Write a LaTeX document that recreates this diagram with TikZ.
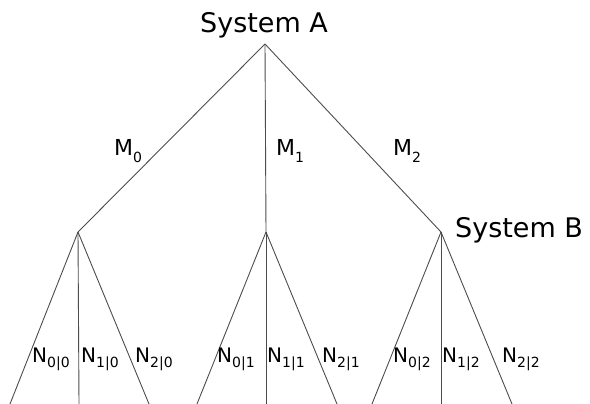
\documentclass[tikz,border=0pt]{standalone}
\usepackage{fontspec}
\setmainfont{DejaVu Sans}
\usetikzlibrary{positioning}
\newcommand{\sublbl}[2]{#1\raisebox{-0.28em}{\fontsize{14}{14}\selectfont #2}}

\begin{document}
\begin{tikzpicture}[x=1pt, y=-1pt,
        branch/.style={draw=black!70, line width=0.9pt},
        sysname/.style={inner sep=0pt, anchor=base west, font=\fontsize{27}{30}\selectfont},
        mlabel/.style={inner sep=0pt, anchor=base west, font=\fontsize{22}{24}\selectfont},
        nlabel/.style={inner sep=0pt, anchor=base west, font=\fontsize{20}{22}\selectfont}]
        \useasboundingbox (0,0) rectangle (590,404);
        % tree points
        \coordinate (root) at (265,44);
        \coordinate (b0) at (78,232);
        \coordinate (b1) at (266,232);
        \coordinate (b2) at (441,232);
        \coordinate (l00) at (10,404);
        \coordinate (l10) at (79,404);
        \coordinate (l20) at (149,404);
        \coordinate (l01) at (197,404);
        \coordinate (l11) at (266,404);
        \coordinate (l21) at (337,404);
        \coordinate (l02) at (372,404);
        \coordinate (l12) at (441,404);
        \coordinate (l22) at (512,404);

        \node[sysname] (sysA) at (200,33) {System A};
        \node[sysname] (sysB) at (455,237) {System B};

        \draw[branch] (root) -- (b0);
        \draw[branch] (root) -- (b1);
        \draw[branch] (root) -- (b2);
        \draw[branch] (b0) -- (l00);
        \draw[branch] (b0) -- (l10);
        \draw[branch] (b0) -- (l20);
        \draw[branch] (b1) -- (l01);
        \draw[branch] (b1) -- (l11);
        \draw[branch] (b1) -- (l21);
        \draw[branch] (b2) -- (l02);
        \draw[branch] (b2) -- (l12);
        \draw[branch] (b2) -- (l22);

        \node[mlabel] (m0) at (114,156) {\sublbl{M}{0}};
        \node[mlabel] (m1) at (276,156) {\sublbl{M}{1}};
        \node[mlabel] (m2) at (393,156) {\sublbl{M}{2}};

        \node[nlabel] (n00) at (32,362) {\sublbl{N}{0|0}};
        \node[nlabel] (n10) at (81,362) {\sublbl{N}{1|0}};
        \node[nlabel] (n20) at (135,362) {\sublbl{N}{2|0}};
        \node[nlabel] (n01) at (217,362) {\sublbl{N}{0|1}};
        \node[nlabel] (n11) at (267,362) {\sublbl{N}{1|1}};
        \node[nlabel] (n21) at (322,362) {\sublbl{N}{2|1}};
        \node[nlabel] (n02) at (393,362) {\sublbl{N}{0|2}};
        \node[nlabel] (n12) at (442,362) {\sublbl{N}{1|2}};
        \node[nlabel] (n22) at (502,362) {\sublbl{N}{2|2}};
\end{tikzpicture}
\end{document}
